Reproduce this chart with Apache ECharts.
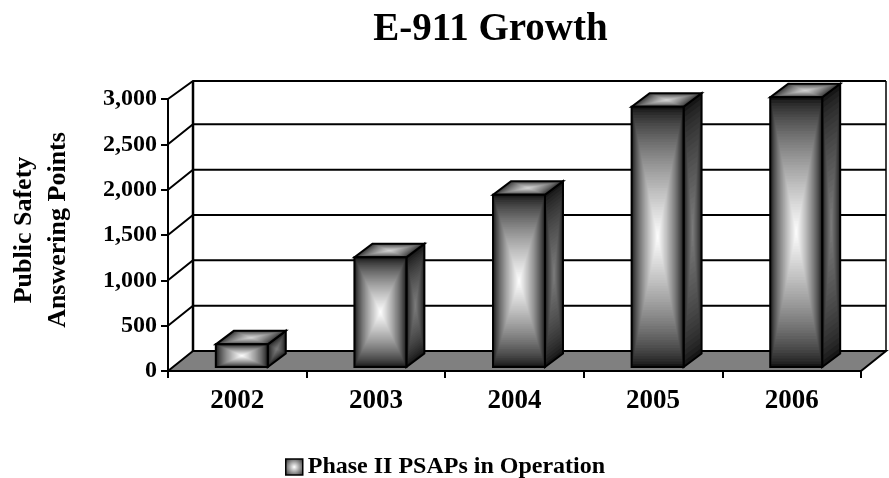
<!DOCTYPE html>
<html><head><meta charset="utf-8">
<style>html,body{margin:0;padding:0;background:#fff}#c{width:889px;height:478px}</style>
<script src="https://cdn.jsdelivr.net/npm/echarts@6/dist/echarts.min.js"></script>
</head><body><div id="c"></div>
<script>
const titleText = 'E-911 Growth';
const seriesName = 'Phase II PSAPs in Operation';
const yAxisName = 'Public Safety\nAnswering Points';
const years = ['2002', '2003', '2004', '2005', '2006'];
const psaps = [250, 1210, 1900, 2870, 2975];
const gridValues = [0, 500, 1000, 1500, 2000, 2500, 3000];

const FONT = '"Liberation Serif","Times New Roman",serif';
const WALL_DX = 25, WALL_DY = 20;
const BAR_DX = 18, BAR_DY = 13.5, BAR_SHIFT_X = 4.5, BAR_SHIFT_Y = 4, BAR_RATIO = 0.375;

function lerp(a, b, t) { return a + (b - a) * t; }
function grey(v) { const n = Math.round(v); return 'rgb(' + n + ',' + n + ',' + n + ')'; }

// Path gradient: concentric copies of a quadrilateral shrinking towards its centre
function face(corners, outer, inner, steps) {
  const cx = corners.reduce((s, p) => s + p[0], 0) / 4;
  const cy = corners.reduce((s, p) => s + p[1], 0) / 4;
  const out = [];
  for (let i = 0; i < steps; i++) {
    const t = i / steps;
    out.push({
      type: 'polygon', silent: true,
      shape: { points: corners.map(p => [lerp(p[0], cx, t), lerp(p[1], cy, t)]) },
      style: { fill: grey(lerp(outer, inner, Math.pow(t, 0.72))) }
    });
  }
  out.push({
    type: 'polygon', silent: true,
    shape: { points: corners },
    style: { fill: 'none', stroke: '#000', lineWidth: 2, lineJoin: 'miter' }
  });
  return out;
}

function renderWall(params, api) {
  const v = api.value(1);
  const band = api.size([1, 0])[0];
  const p = api.coord([0, v]);
  const x0 = p[0] - band / 2, y = p[1], x1 = x0 + band * years.length;
  const kids = [];
  if (v === 0) {
    kids.push({
      type: 'polygon', silent: true,
      shape: { points: [[x0, y], [x0 + WALL_DX, y - WALL_DY], [x1 + WALL_DX, y - WALL_DY], [x1, y]] },
      style: { fill: '#808080', stroke: '#000', lineWidth: 2 }
    });
    const top = api.coord([0, gridValues[gridValues.length - 1]])[1];
    [x0 + WALL_DX, x1 + WALL_DX].forEach((x, i) => kids.push({
      type: 'line', silent: true,
      shape: { x1: x, y1: y - WALL_DY, x2: x, y2: top - WALL_DY + 2 },
      style: { stroke: '#000', lineWidth: i ? 1.5 : 2.5 }
    }));
  } else {
    const dy = v === 3000 ? 18 : WALL_DY;
    kids.push({
      type: 'polyline', silent: true,
      shape: { points: [[x0, y], [x0 + WALL_DX, y - dy], [x1 + WALL_DX, y - dy]] },
      style: { fill: 'none', stroke: '#000', lineWidth: 2 }
    });
  }
  return { type: 'group', children: kids };
}

function renderBar(params, api) {
  const idx = api.value(0), v = api.value(1);
  const band = api.size([1, 0])[0];
  const w = band * BAR_RATIO;
  const c = api.coord([idx, 0]);
  const yTop0 = api.coord([idx, v])[1];
  const l = c[0] + BAR_SHIFT_X - w / 2, r = l + w;
  const b = c[1] - BAR_SHIFT_Y, t = yTop0 - BAR_SHIFT_Y;
  const side = [[r, t], [r + BAR_DX, t - BAR_DY], [r + BAR_DX, b - BAR_DY], [r, b]];
  const top = [[l, t], [l + BAR_DX, t - BAR_DY], [r + BAR_DX, t - BAR_DY], [r, t]];
  const front = [[l, t], [r, t], [r, b], [l, b]];
  return {
    type: 'group',
    children: [].concat(
      face(side, 22, 125, 24),
      face(top, 45, 215, 24),
      face(front, 20, 255, 48)
    )
  };
}

const swatch = {
  type: 'radial', x: 0.5, y: 0.5, r: 0.7,
  colorStops: [{ offset: 0, color: '#fff' }, { offset: 1, color: '#222' }]
};

const chart = echarts.init(document.getElementById('c'), null, { renderer: 'canvas', width: 889, height: 478 });
chart.setOption({
  animation: false,
  backgroundColor: '#fff',
  title: {
    text: titleText, left: 485.5, top: 5, textAlign: 'center',
    textStyle: { fontFamily: FONT, fontWeight: 'bold', fontSize: 39, color: '#000' }
  },
  legend: {
    left: 280, top: 450, itemWidth: 17, itemHeight: 16, itemGap: 6,
    textStyle: { fontFamily: FONT, fontWeight: 'bold', fontSize: 24, color: '#000' },
    data: [{ name: seriesName, icon: 'rect', itemStyle: { color: swatch, borderColor: '#000', borderWidth: 1.5 } }]
  },
  grid: { left: 168, right: 28, top: 99, bottom: 107, outerBoundsMode: 'none' },
  xAxis: {
    type: 'category', data: years,
    axisLine: { lineStyle: { color: '#000', width: 2 } },
    axisTick: { show: true, length: 7, alignWithLabel: false, lineStyle: { color: '#000', width: 2 } },
    axisLabel: { fontFamily: FONT, fontWeight: 'bold', fontSize: 27, color: '#000', margin: 17 }
  },
  yAxis: {
    type: 'value', min: 0, max: 3000, interval: 500,
    name: yAxisName, nameLocation: 'middle', nameGap: 93, nameRotate: 90,
    nameTextStyle: { fontFamily: FONT, fontWeight: 'bold', fontSize: 26, color: '#000', lineHeight: 34, padding: [0, 0, 0, 10] },
    axisLine: { show: true, lineStyle: { color: '#000', width: 2 } },
    axisTick: { show: true, length: 7, lineStyle: { color: '#000', width: 2 } },
    splitLine: { show: false },
    axisLabel: {
      fontFamily: FONT, fontWeight: 'bold', fontSize: 24, color: '#000', margin: 11,
      formatter: v => v.toLocaleString('en-US')
    }
  },
  series: [
    { type: 'custom', z: 1, silent: true, clip: false, renderItem: renderWall,
      data: gridValues.map(v => [0, v]), encode: { x: 0, y: 1 } },
    { type: 'custom', z: 2, silent: true, clip: false, name: seriesName, renderItem: renderBar,
      itemStyle: { color: swatch },
      data: psaps.map((v, i) => [i, v]), encode: { x: 0, y: 1 } }
  ]
});
</script></body></html>
